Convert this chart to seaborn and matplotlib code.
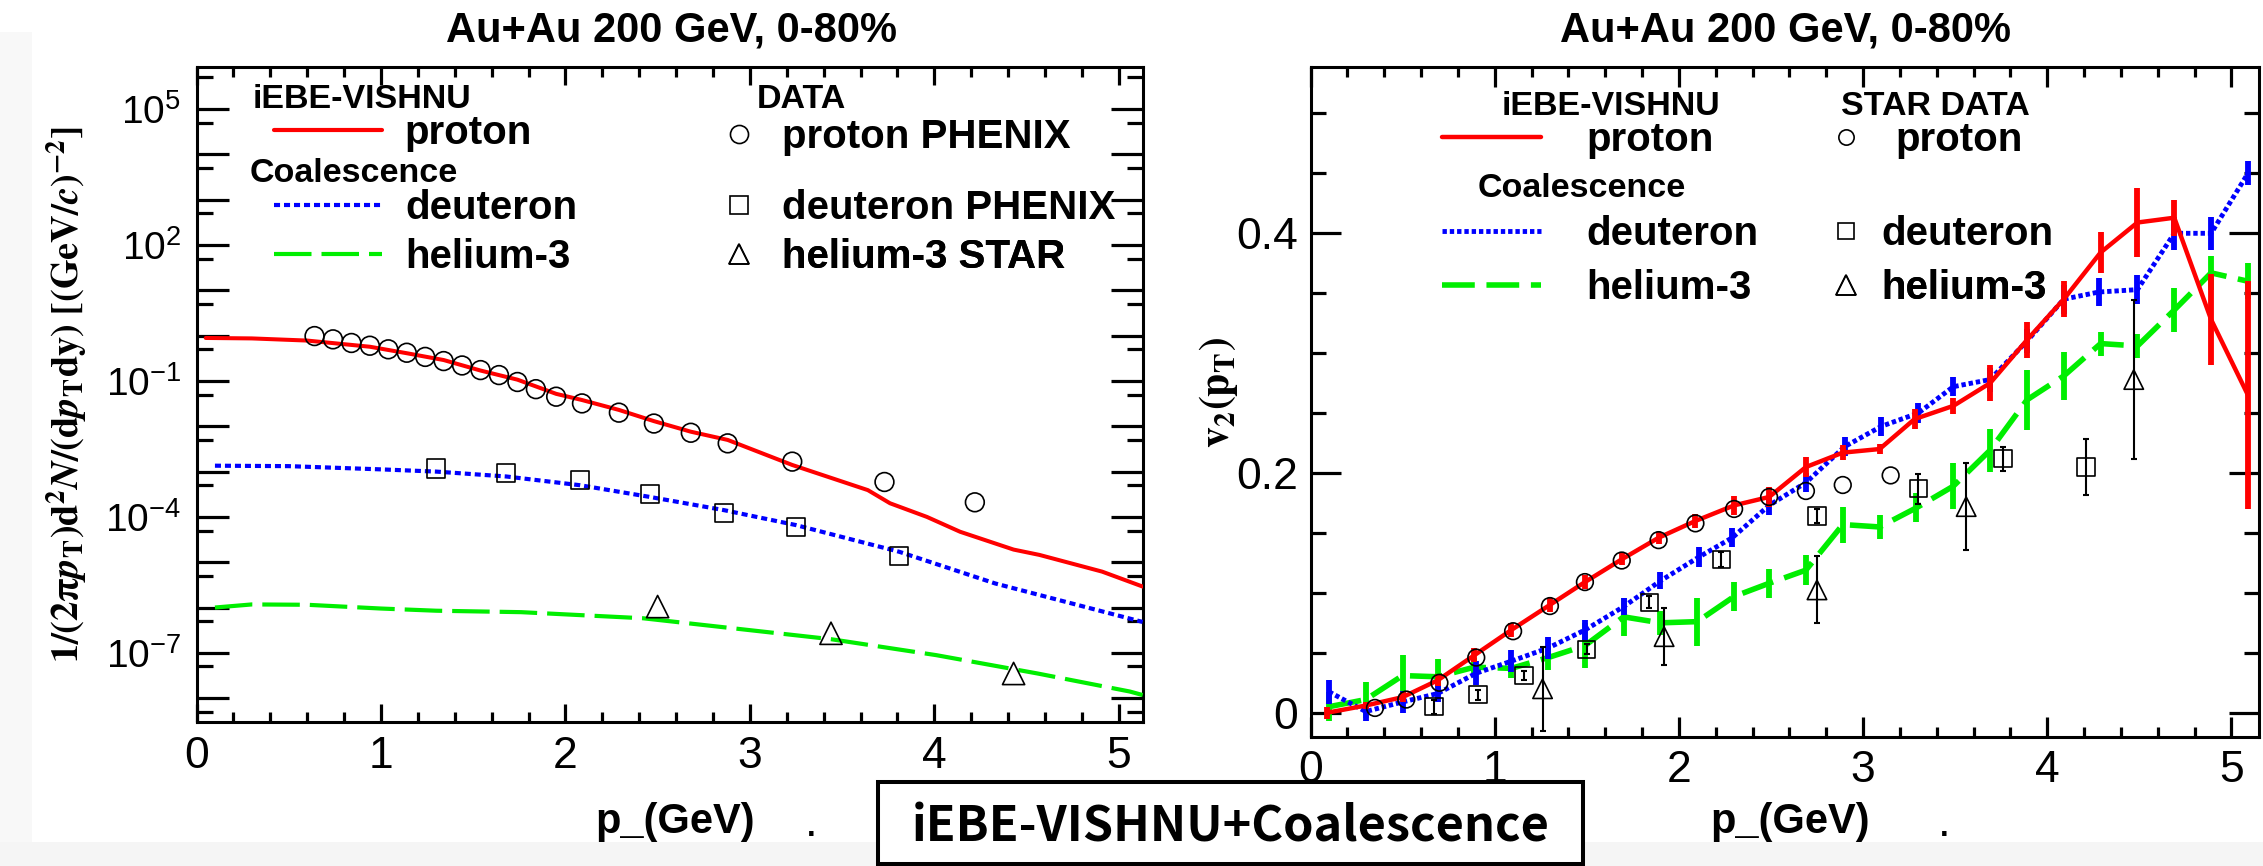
import numpy as np
import pandas as pd
import matplotlib
matplotlib.use("Agg")
import matplotlib.pyplot as plt
import seaborn as sns
from matplotlib.lines import Line2D
from matplotlib.patches import Rectangle
from matplotlib.ticker import FixedLocator, FuncFormatter, MultipleLocator, NullFormatter

# ---------------- data: left panel (spectra) ----------------
pt_proton_curve = [0.05, 0.30, 0.60, 0.94, 1.14, 1.34, 1.54, 1.74, 1.95, 2.09, 2.29, 2.48, 2.68, 2.88,
                   3.23, 3.64, 3.76, 3.96, 4.14, 4.43, 4.57, 4.91, 5.13]
yield_proton_curve = [0.89, 0.87, 0.78, 0.57, 0.41, 0.29, 0.17, 0.107, 0.052, 0.038, 0.023, 0.013, 7.6e-3,
                      5.0e-3, 1.4e-3, 3.9e-4, 2.0e-4, 1.0e-4, 4.7e-5, 1.9e-5, 1.45e-5, 6.2e-6, 2.9e-6]
pt_proton_phenix = [0.64, 0.74, 0.84, 0.94, 1.04, 1.14, 1.24, 1.34, 1.44, 1.54, 1.64, 1.74, 1.84, 1.95,
                    2.09, 2.29, 2.48, 2.68, 2.88, 3.23, 3.73, 4.22]
yield_proton_phenix = [0.98, 0.83, 0.69, 0.60, 0.50, 0.42, 0.34, 0.275, 0.22, 0.174, 0.135, 0.095, 0.066,
                       0.045, 0.032, 0.020, 0.0115, 7.2e-3, 4.2e-3, 1.66e-3, 5.9e-4, 2.1e-4]
pt_deuteron_curve = [0.10, 0.50, 1.00, 1.30, 1.68, 2.08, 2.46, 2.86, 3.25, 3.81, 4.33, 5.13]
yield_deuteron_curve = [1.35e-3, 1.32e-3, 1.12e-3, 1.0e-3, 7.8e-4, 5.0e-4, 2.75e-4, 1.41e-4, 6.6e-5,
                        1.7e-5, 3.4e-6, 4.8e-7]
pt_deuteron_phenix = [1.30, 1.68, 2.08, 2.46, 2.86, 3.25, 3.81]
yield_deuteron_phenix = [1.17e-3, 9.3e-4, 6.5e-4, 3.2e-4, 1.2e-4, 6.0e-5, 1.38e-5]
pt_helium_curve = [0.10, 0.30, 0.60, 1.00, 1.30, 1.76, 2.42, 3.44, 4.01, 4.56, 5.06, 5.13]
yield_helium_curve = [1.0e-6, 1.17e-6, 1.15e-6, 9.5e-7, 8.5e-7, 7.9e-7, 5.8e-7, 2.0e-7, 8.9e-8, 3.5e-8,
                      1.4e-8, 1.17e-8]
pt_helium_star = [2.50, 3.44, 4.43]
yield_helium_star = [1.05e-6, 2.7e-7, 3.5e-8]

# ---------------- data: right panel (v2) ----------------
pt_v2_proton = [0.09, 0.30, 0.50, 0.69, 0.89, 1.09, 1.30, 1.49, 1.69, 1.89, 2.09, 2.30, 2.49, 2.69, 2.89,
                3.09, 3.28, 3.49, 3.69, 3.89, 4.09, 4.29, 4.49, 4.69, 4.89, 5.09]
v2_proton = [0.000, 0.006, 0.013, 0.027, 0.048, 0.069, 0.090, 0.109, 0.128, 0.146, 0.160, 0.173, 0.180,
             0.205, 0.217, 0.220, 0.245, 0.256, 0.275, 0.311, 0.345, 0.384, 0.409, 0.413, 0.328, 0.265]
v2_proton_err = [0.005, 0.003, 0.004, 0.005, 0.006, 0.006, 0.006, 0.006, 0.005, 0.005, 0.006, 0.008,
                 0.008, 0.008, 0.006, 0.004, 0.008, 0.007, 0.015, 0.015, 0.015, 0.017, 0.029, 0.015,
                 0.038, 0.095]
pt_v2_deuteron = [0.10, 0.30, 0.50, 0.69, 0.90, 1.09, 1.29, 1.49, 1.70, 1.90, 2.11, 2.29, 2.49, 2.69,
                  2.90, 3.10, 3.30, 3.49, 3.69, 3.89, 4.09, 4.28, 4.49, 4.69, 4.89, 5.09]
v2_deuteron = [0.0175, 0.001, 0.009, 0.016, 0.033, 0.043, 0.054, 0.069, 0.0885, 0.110, 0.130, 0.146,
               0.173, 0.192, 0.222, 0.239, 0.250, 0.272, 0.278, 0.310, 0.345, 0.351, 0.353, 0.400,
               0.400, 0.450]
v2_deuteron_err = [0.010, 0.008, 0.009, 0.007, 0.010, 0.009, 0.009, 0.008, 0.007, 0.007, 0.008, 0.008,
                   0.008, 0.008, 0.008, 0.008, 0.008, 0.008, 0.010, 0.010, 0.012, 0.012, 0.012, 0.014,
                   0.014, 0.010]
pt_v2_helium = [0.10, 0.30, 0.50, 0.69, 0.89, 1.09, 1.29, 1.49, 1.70, 1.90, 2.10, 2.30, 2.49, 2.69,
                2.89, 3.09, 3.29, 3.49, 3.69, 3.89, 4.09, 4.29, 4.49, 4.69, 4.89, 5.09]
v2_helium = [0.005, 0.011, 0.031, 0.030, 0.038, 0.037, 0.046, 0.056, 0.080, 0.075, 0.076, 0.097, 0.108,
             0.119, 0.157, 0.155, 0.171, 0.189, 0.219, 0.261, 0.281, 0.308, 0.306, 0.336, 0.367, 0.360]
v2_helium_err = [0.012, 0.015, 0.017, 0.015, 0.008, 0.008, 0.010, 0.019, 0.016, 0.010, 0.020, 0.012,
                 0.012, 0.0125, 0.015, 0.010, 0.012, 0.019, 0.018, 0.025, 0.020, 0.010, 0.010, 0.018,
                 0.014, 0.015]
pt_star_proton = [0.35, 0.52, 0.70, 0.90, 1.10, 1.30, 1.49, 1.69, 1.89, 2.09, 2.30, 2.49, 2.69, 2.89, 3.15]
v2_star_proton = [0.004, 0.011, 0.025, 0.046, 0.068, 0.089, 0.109, 0.127, 0.144, 0.158, 0.170, 0.180,
                  0.185, 0.190, 0.198]
pt_star_deuteron = [0.67, 0.91, 1.16, 1.50, 1.84, 2.23, 2.75, 3.30, 3.76, 4.21]
v2_star_deuteron = [0.005, 0.015, 0.031, 0.053, 0.092, 0.128, 0.164, 0.187, 0.212, 0.205]
v2_star_deuteron_err = [0.006, 0.004, 0.004, 0.004, 0.005, 0.006, 0.006, 0.0125, 0.010, 0.023]
pt_star_helium = [1.26, 1.92, 2.75, 3.56, 4.47]
v2_star_helium = [0.020, 0.0635, 0.1025, 0.172, 0.278]
v2_star_helium_err = [0.035, 0.024, 0.028, 0.036, 0.066]

# text
title = "Au+Au 200 GeV, 0-80%"
xlabel = "p_(GeV)"
ylabel_left = (r"$\mathbf{1/(2\pi}\mathbfit{p}_{\mathbf{T}}\mathbf{)d}^{\mathbf{2}}\mathbfit{N}"
               r"\mathbf{/(d}\mathbfit{p}_{\mathbf{T}}\mathbf{dy)\ [(GeV/}\mathbfit{c}\mathbf{)}"
               r"^{\mathbf{-2}}\mathbf{]}$")
ylabel_right = r"$\mathbf{v_{2}(p_{T})}$"
box_text = "iEBE-VISHNU+Coalescence"

RED, BLUE, GREEN = "#ff0000", "#0000ff", "#00ee00"

# ---------------- style ----------------
sns.set_theme(style="ticks")
plt.rcParams["font.family"] = ["Liberation Sans", "DejaVu Sans"]
plt.rcParams["mathtext.fontset"] = "stix"
plt.rcParams["axes.edgecolor"] = "black"
plt.rcParams["xtick.color"] = "black"
plt.rcParams["ytick.color"] = "black"
plt.rcParams["text.color"] = "black"

W, H = 2263, 866
fig = plt.figure(figsize=(W / 100, H / 100), dpi=100)
fig.patch.set_facecolor("white")


def px_rect(x0, y0, x1, y1):
    return [x0 / W, 1 - y1 / H, (x1 - x0) / W, (y1 - y0) / H]


def fx(px):
    return px / W


def fy(py):
    return 1 - py / H


axL = fig.add_axes(px_rect(196.5, 67, 1142.7, 721.7))
axR = fig.add_axes(px_rect(1310.5, 66.7, 2259, 736.7))
for ax in (axL, axR):
    ax.set_facecolor("white")
    for s in ax.spines.values():
        s.set_linewidth(2.2)
        s.set_color("black")
        s.set_visible(True)


def curve(ax, x, y, color, ls, lw, z=3):
    sns.lineplot(x=x, y=y, ax=ax, color=color, linestyle=ls, linewidth=lw, sort=False,
                 estimator=None, zorder=z, legend=False)


def markers(ax, x, y, marker, ms, z=4):
    sns.scatterplot(x=x, y=y, ax=ax, marker=marker, s=ms ** 2, color="black", zorder=z, legend=False)
    pc = ax.collections[-1]
    pc.set_facecolor("none")
    pc.set_edgecolor("black")
    pc.set_linewidth(1.2)


# ---------------- left panel ----------------
axL.set_yscale("log")
markers(axL, pt_proton_phenix, yield_proton_phenix, "o", 13.5)
markers(axL, pt_deuteron_phenix, yield_deuteron_phenix, "s", 13)
markers(axL, pt_helium_star, yield_helium_star, "^", 16)
curve(axL, pt_proton_curve, yield_proton_curve, RED, "-", 2.9)
curve(axL, pt_deuteron_curve, yield_deuteron_curve, BLUE, (0, (1.45, 0.95)), 3.0)
curve(axL, pt_helium_curve, yield_helium_curve, GREEN, (0, (9.0, 2.4)), 3.0)

axL.set_xlim(0, 5.13)
axL.set_ylim(10 ** -8.52, 10 ** 5.93)
axL.yaxis.set_major_locator(FixedLocator([10.0 ** k for k in range(-8, 6)]))
axL.yaxis.set_minor_locator(FixedLocator([5 * 10.0 ** k for k in range(-9, 6)]))


def logfmt(v, pos):
    k = int(round(np.log10(v)))
    return r"$\mathregular{10^{%d}}$" % k if k % 3 == 2 else ""


axL.yaxis.set_major_formatter(FuncFormatter(logfmt))
axL.yaxis.set_minor_formatter(NullFormatter())
axL.xaxis.set_major_locator(MultipleLocator(1))
axL.xaxis.set_minor_locator(MultipleLocator(0.2))
axL.tick_params(axis="both", which="both", direction="in", top=True, right=True, width=2.3)
axL.tick_params(axis="y", which="major", length=23, labelsize=28, pad=11)
axL.tick_params(axis="y", which="minor", length=11.5)
axL.tick_params(axis="x", which="major", length=13, labelsize=32, pad=10)
axL.tick_params(axis="x", which="minor", length=7)
axL.set_xlabel("")
axL.set_ylabel("")

# ---------------- right panel ----------------
markers(axR, pt_star_proton, v2_star_proton, "o", 12)
axR.errorbar(pt_star_deuteron, v2_star_deuteron, yerr=v2_star_deuteron_err, fmt="none", ecolor="black",
             elinewidth=1.5, capsize=2.5, capthick=1.5, zorder=4)
markers(axR, pt_star_deuteron, v2_star_deuteron, "s", 12.5, z=5)
axR.errorbar(pt_star_helium, v2_star_helium, yerr=v2_star_helium_err, fmt="none", ecolor="black",
             elinewidth=1.5, capsize=2.5, capthick=1.5, zorder=4)
markers(axR, pt_star_helium, v2_star_helium, "^", 14, z=5)

for x, y, e, col, ls, lw in [
    (pt_v2_helium, v2_helium, v2_helium_err, GREEN, (0, (5.9, 2.1)), 4.0),
    (pt_v2_deuteron, v2_deuteron, v2_deuteron_err, BLUE, (0, (0.9, 0.6)), 3.5),
    (pt_v2_proton, v2_proton, v2_proton_err, RED, "-", 3.2),
]:
    curve(axR, x, y, col, ls, lw)
    axR.errorbar(x, y, yerr=e, fmt="none", ecolor=col, elinewidth=4.2, capsize=0, zorder=3)

axR.set_xlim(0, 5.15)
axR.set_ylim(-0.020, 0.539)
axR.yaxis.set_major_locator(FixedLocator([0.0, 0.2, 0.4]))
axR.yaxis.set_major_formatter(FuncFormatter(lambda v, p: "0" if abs(v) < 1e-9 else f"{v:.1f}"))
axR.yaxis.set_minor_locator(MultipleLocator(0.05))
axR.xaxis.set_major_locator(MultipleLocator(1))
axR.xaxis.set_minor_locator(MultipleLocator(0.2))
axR.tick_params(axis="both", which="both", direction="in", top=True, right=True, width=2.3)
axR.tick_params(axis="y", which="major", length=21.6, labelsize=32, pad=9)
axR.tick_params(axis="y", which="minor", length=11)
axR.tick_params(axis="x", which="major", length=14.4, labelsize=32, pad=9.5)
axR.tick_params(axis="x", which="minor", length=7.2)
axR.set_xlabel("")
axR.set_ylabel("")


# ---------------- legends ----------------
def key(ax, handle, label, x, y, fs, hl, pad):
    leg = ax.legend([handle], [label], loc="center left", bbox_to_anchor=(x, y),
                    bbox_transform=ax.transAxes, frameon=False, borderpad=0, borderaxespad=0,
                    handlelength=hl, handletextpad=pad, handleheight=0.7,
                    prop={"weight": "bold", "size": fs})
    ax.add_artist(leg)


def header(ax, text, x, y, fs=24.5):
    ax.text(x, y, text, transform=ax.transAxes, ha="left", va="baseline", fontsize=fs,
            fontweight="bold")


h_red = Line2D([], [], color=RED, lw=3.0)
h_blue = Line2D([], [], color=BLUE, lw=3.0, linestyle=(0, (1.45, 0.95)))
h_green = Line2D([], [], color=GREEN, lw=3.0, linestyle=(0, (9.0, 2.4)))
h_circ = Line2D([], [], ls="none", marker="o", mfc="none", mec="black", ms=13, mew=1.2)
h_sq = Line2D([], [], ls="none", marker="s", mfc="none", mec="black", ms=13, mew=1.2)
h_tri = Line2D([], [], ls="none", marker="^", mfc="none", mec="black", ms=15, mew=1.2)

header(axL, "iEBE-VISHNU", 0.0597, 0.9374)
header(axL, "Coalescence", 0.0565, 0.8244)
header(axL, "DATA", 0.5924, 0.9374)
key(axL, h_red, "proton", 0.0819, 0.8992, 29, 2.68, 0.57)
key(axL, h_blue, "deuteron", 0.0819, 0.7846, 29, 2.68, 0.57)
key(axL, h_green, "helium-3", 0.0819, 0.7097, 29, 2.68, 0.57)
key(axL, h_circ, "proton PHENIX", 0.552, 0.8931, 29, 1.0, 0.566)
key(axL, h_sq, "deuteron PHENIX", 0.552, 0.7846, 29, 1.0, 0.566)
key(axL, h_tri, "helium-3 STAR", 0.552, 0.7097, 29, 1.0, 0.566)

h_red2 = Line2D([], [], color=RED, lw=3.2)
h_blue2 = Line2D([], [], color=BLUE, lw=3.5, linestyle=(0, (0.9, 0.6)))
h_green2 = Line2D([], [], color=GREEN, lw=4.0, linestyle=(0, (5.9, 2.1)))
h_circ2 = Line2D([], [], ls="none", marker="o", mfc="none", mec="black", ms=11, mew=1.2)
h_sq2 = Line2D([], [], ls="none", marker="s", mfc="none", mec="black", ms=12, mew=1.2)
h_tri2 = Line2D([], [], ls="none", marker="^", mfc="none", mec="black", ms=14, mew=1.2)

header(axR, "iEBE-VISHNU", 0.2016, 0.928)
header(axR, "STAR DATA", 0.559, 0.928)
header(axR, "Coalescence", 0.1766, 0.8055)
key(axR, h_red2, "proton", 0.1386, 0.8906, 29, 2.46, 1.13)
key(axR, h_blue2, "deuteron", 0.1386, 0.75, 29, 2.46, 1.13)
key(axR, h_green2, "helium-3", 0.1386, 0.6694, 29, 2.46, 1.13)
key(axR, h_circ2, "proton", 0.5434, 0.8906, 29, 1.0, 0.715)
key(axR, h_sq2, "deuteron", 0.5434, 0.75, 29, 1.0, 0.367)
key(axR, h_tri2, "helium-3", 0.5434, 0.6694, 29, 1.0, 0.367)

# ---------------- figure texts ----------------
fig.text(fx(671.5), fy(41.7), title, ha="center", va="baseline", fontsize=30, fontweight="bold")
fig.text(fx(1785), fy(41.7), title, ha="center", va="baseline", fontsize=30, fontweight="bold")
fig.text(fx(67), fy(394.5), ylabel_left, rotation=90, ha="center", va="center", fontsize=27.5)
fig.text(fx(1218), fy(392), ylabel_right, rotation=90, ha="center", va="center", fontsize=30)
fig.text(fx(595), fy(833), xlabel, ha="left", va="baseline", fontsize=30, fontweight="bold", zorder=3)
fig.text(fx(1710), fy(833), xlabel, ha="left", va="baseline", fontsize=30, fontweight="bold", zorder=3)
fig.text(fx(807), fy(836), ".", ha="left", va="baseline", fontsize=22, fontweight="bold", zorder=3)
fig.text(fx(1940), fy(836), ".", ha="left", va="baseline", fontsize=22, fontweight="bold", zorder=3)

# light grey scan margins (bottom band and left strip)
fig.add_artist(Rectangle((0, 0), 1, 24.5 / H, transform=fig.transFigure, facecolor="#f5f5f5",
                         edgecolor="none", zorder=10))
fig.add_artist(Rectangle((0, 24.5 / H), 32 / W, (H - 32 - 24.5) / H, transform=fig.transFigure,
                         facecolor="#f8f8f8", edgecolor="none", zorder=-1))

# boxed caption
fig.add_artist(Rectangle((fx(878), fy(864)), (1583 - 878) / W, (864 - 782) / H,
                         transform=fig.transFigure, facecolor="white", edgecolor="black",
                         linewidth=2.9, zorder=11))
fig.text(fx(1230.5), fy(841.7), box_text, ha="center", va="baseline", fontsize=35, fontweight="bold",
         family=["Noto Sans CJK SC", "DejaVu Sans"], zorder=12)

fig.savefig("out.png", dpi=100)
